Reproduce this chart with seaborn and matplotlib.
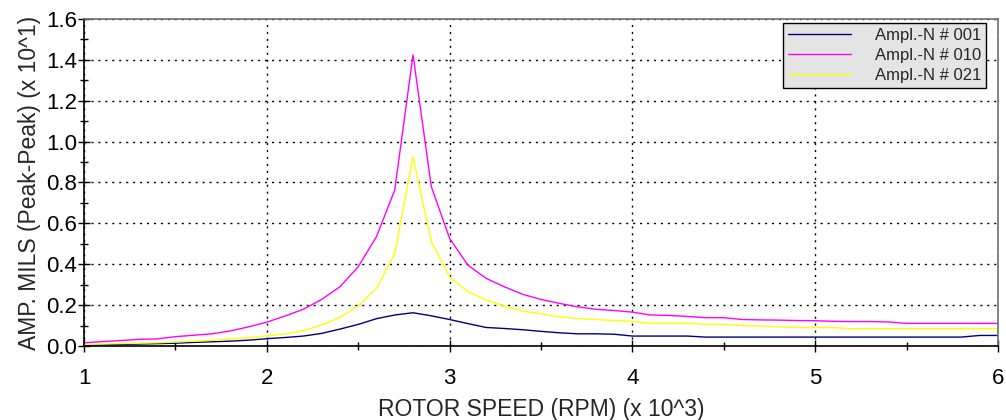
import pandas as pd
import matplotlib
matplotlib.use("Agg")
import matplotlib.pyplot as plt
import seaborn as sns
from matplotlib.ticker import MultipleLocator, FormatStrFormatter

# rotor speed (x 10^3 RPM)
rpm = [1.0, 1.1, 1.2, 1.3, 1.4, 1.5, 1.6, 1.7, 1.8, 1.9,
       2.0, 2.1, 2.2, 2.3, 2.4, 2.5, 2.6, 2.7, 2.8, 2.9,
       3.0, 3.1, 3.2, 3.3, 3.4, 3.5, 3.6, 3.7, 3.8, 3.9,
       4.0, 4.1, 4.2, 4.3, 4.4, 4.5, 4.6, 4.7, 4.8, 4.9,
       5.0, 5.1, 5.2, 5.3, 5.4, 5.5, 5.6, 5.7, 5.8, 5.9, 6.0]

amp_001 = [0.005, 0.006, 0.008, 0.010, 0.012, 0.014, 0.018, 0.021, 0.024, 0.029,
           0.036, 0.042, 0.049, 0.062, 0.083, 0.106, 0.134, 0.152, 0.163, 0.148,
           0.130, 0.110, 0.091, 0.086, 0.080, 0.072, 0.065, 0.060, 0.060, 0.058,
           0.049, 0.049, 0.049, 0.049, 0.044, 0.044, 0.044, 0.044, 0.044, 0.044,
           0.044, 0.044, 0.044, 0.044, 0.044, 0.044, 0.044, 0.044, 0.044, 0.052, 0.052]

amp_010 = [0.016, 0.022, 0.027, 0.033, 0.035, 0.046, 0.053, 0.060, 0.074, 0.094,
           0.117, 0.147, 0.180, 0.228, 0.290, 0.388, 0.535, 0.763, 1.424, 0.780,
           0.527, 0.396, 0.331, 0.290, 0.253, 0.228, 0.209, 0.192, 0.180, 0.174,
           0.166, 0.152, 0.150, 0.145, 0.139, 0.139, 0.130, 0.128, 0.127, 0.125,
           0.124, 0.121, 0.120, 0.120, 0.118, 0.111, 0.111, 0.111, 0.111, 0.111, 0.111]

amp_021 = [0.008, 0.010, 0.012, 0.014, 0.016, 0.020, 0.024, 0.028, 0.034, 0.041,
           0.050, 0.059, 0.075, 0.103, 0.140, 0.196, 0.282, 0.453, 0.926, 0.510,
           0.339, 0.266, 0.225, 0.196, 0.171, 0.158, 0.143, 0.135, 0.130, 0.125,
           0.121, 0.112, 0.112, 0.111, 0.106, 0.106, 0.100, 0.098, 0.094, 0.091,
           0.091, 0.090, 0.085, 0.085, 0.085, 0.085, 0.085, 0.085, 0.085, 0.085, 0.085]

series_names = ["Ampl.-N # 001", "Ampl.-N # 010", "Ampl.-N # 021"]
series_colors = ["#000080", "#ff00ff", "#ffff00"]

df = pd.concat([
    pd.DataFrame({"rpm": rpm, "amp": vals, "series": name})
    for name, vals in zip(series_names, [amp_001, amp_010, amp_021])
])

sns.set_style("white")
plt.rcParams["font.family"] = ["Liberation Sans", "DejaVu Sans"]

fig = plt.figure(figsize=(10.06, 4.2), dpi=100)
ax = fig.add_axes([0.0835, 0.176, 0.9085, 0.779])

sns.lineplot(data=df, x="rpm", y="amp", hue="series", hue_order=series_names,
             palette=series_colors, linewidth=1.0, ax=ax)

ax.set_xlim(1, 6)
ax.set_ylim(0, 1.6)
ax.xaxis.set_major_locator(MultipleLocator(1))
ax.xaxis.set_minor_locator(MultipleLocator(0.5))
ax.yaxis.set_major_locator(MultipleLocator(0.2))
ax.yaxis.set_minor_locator(MultipleLocator(0.1))
ax.yaxis.set_major_formatter(FormatStrFormatter("%.1f"))

ax.grid(True, which="major", color="black", linestyle=(0, (1.5, 3.5)), linewidth=1.0)
ax.tick_params(which="both", direction="inout", colors="black", labelsize=16,
               left=True, bottom=True)
ax.tick_params(which="major", length=8, width=1)
ax.tick_params(which="minor", length=6, width=1)
ax.tick_params(axis="x", pad=12)
ax.tick_params(axis="y", pad=1)

for side in ["left", "bottom"]:
    ax.spines[side].set_color("black")
    ax.spines[side].set_linewidth(1.2)
for side in ["top", "right"]:
    ax.spines[side].set_color("#707070")
    ax.spines[side].set_linewidth(1.2)

ax.set_xlabel("ROTOR SPEED (RPM) (x 10^3)", fontsize=16.5, labelpad=6)
ax.set_ylabel("AMP. MILS (Peak-Peak) (x 10^1)", fontsize=16.5, labelpad=4)

leg = ax.legend(loc="upper right", bbox_to_anchor=(0.987, 0.988), borderaxespad=0,
                fontsize=12, frameon=True, fancybox=False, handlelength=3.8,
                handletextpad=1.4, labelspacing=0.3, borderpad=0.3)
leg.get_frame().set_facecolor("#e4e4e4")
leg.get_frame().set_edgecolor("black")
leg.get_frame().set_alpha(1)
leg.get_frame().set_linewidth(1.0)

fig.savefig("out.png", dpi=100)
